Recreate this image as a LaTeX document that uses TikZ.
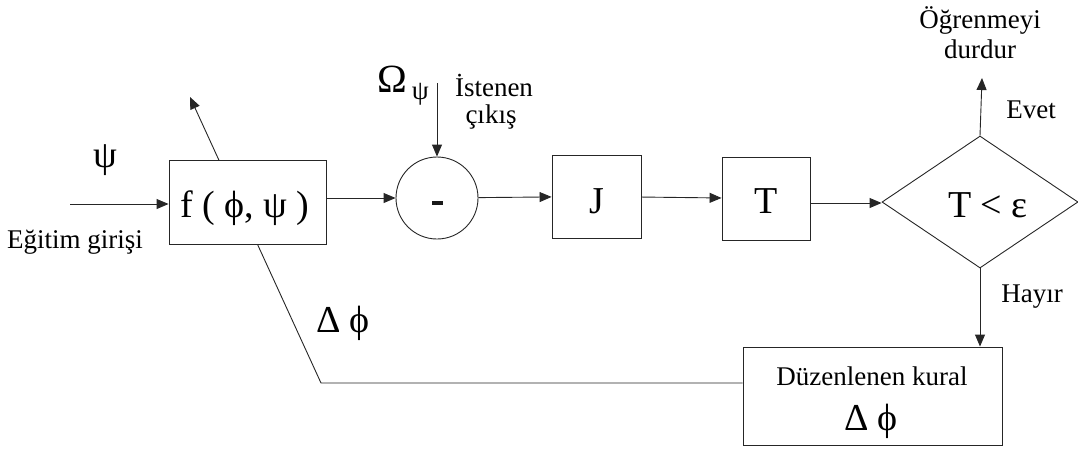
\documentclass[tikz,border=0pt]{standalone}
\usepackage{fontspec}
\setmainfont{Liberation Serif}
\usetikzlibrary{shapes.geometric,arrows.meta,backgrounds}
\newcommand\lblf{\fontsize{27}{31}\selectfont}
\newcommand\bigf{\fontsize{38}{42}\selectfont}
\begin{document}
\begin{tikzpicture}[x=1pt,y=-1pt,
  ln/.style={line width=0.9pt,draw=black!85},
  arr/.style={ln,-{Triangle[length=12pt,width=10pt]}},
  blk/.style={ln,rectangle,fill=white,inner sep=0pt},
  lbl/.style={inner sep=0pt,font=\lblf},
  big/.style={inner sep=0pt,font=\bigf}]
\useasboundingbox (0,0) rectangle (1078,448);
% blocks
\node[blk,minimum width=157pt,minimum height=84pt] (f) at (247.5,202) {};
\node[big,anchor=base] (ftxt) at (245,217) {f ( ϕ, ψ )};
\node[ln,circle,minimum size=82pt,inner sep=0pt] (c) at (437,198) {};
\node[inner sep=0pt,fill=black!90,minimum width=11pt,minimum height=4pt] (minus) at (437,202.5) {};
\node[blk,minimum width=89pt,minimum height=83pt] (J) at (596.5,196.5) {};
\node[big,anchor=base] (Jt) at (597,213) {J};
\node[blk,minimum width=88pt,minimum height=83pt] (T) at (766,198.5) {};
\node[big,anchor=base] (Tt) at (766,213) {T};
\node[ln,diamond,minimum width=196pt,minimum height=132pt,inner sep=0pt] (d) at (980,202) {};
\node[big,anchor=base] (dt) at (988,217) {T < ε};
\node[blk,minimum width=259pt,minimum height=98pt] (rule) at (872.5,396) {};
\node[lbl,anchor=base] (rt1) at (872,385) {Düzenlenen kural};
\node[big,anchor=base] (rt2) at (871,430) {Δ ϕ};
% labels
\node[big] (psi) at (105,160) {ψ};
\node[lbl,anchor=base] (egit) at (75,248) {Eğitim girişi};
\node[inner sep=0pt,anchor=base west] (omega) at (377,92) {{\fontsize{40}{42}\selectfont Ω}\hspace{5pt}\raisebox{-7pt}{\lblf ψ}};
\node[lbl,anchor=base] (ist1) at (494,96) {İstenen};
\node[lbl,anchor=base] (ist2) at (491,123) {çıkış};
\node[lbl,anchor=base] (og1) at (980,28) {Öğrenmeyi};
\node[lbl,anchor=base] (og2) at (980,58) {durdur};
\node[lbl,anchor=base] (evet) at (1031,118) {Evet};
\node[lbl,anchor=base] (hayir) at (1032,302) {Hayır};
\node[big,anchor=base] (dphi) at (343,332) {Δ ϕ};
% coordinates
\coordinate (in) at (70,204);
\coordinate (up) at (190,97);
\coordinate (fb) at (321,383);
\coordinate (want) at (437,83);
\coordinate (stop) at (982,78);
% connectors
\draw[arr] (in) -- (f.west |- in);
\draw[arr] (f.east |- c) -- (c);
\draw[arr] (want) -- (c.north);
\draw[arr] (c) -- (J);
\draw[arr] (J) -- (T);
\draw[arr] (T.east |- 0,203) -- (d.west |- 0,203);
\draw[arr] (d.north) -- (stop);
\draw[arr] (d.south) -- (d.south |- rule.north);
\begin{scope}[on background layer]
\draw[arr] (rule.west |- fb) -- (fb) -- (up);
\end{scope}
\end{tikzpicture}
\end{document}
